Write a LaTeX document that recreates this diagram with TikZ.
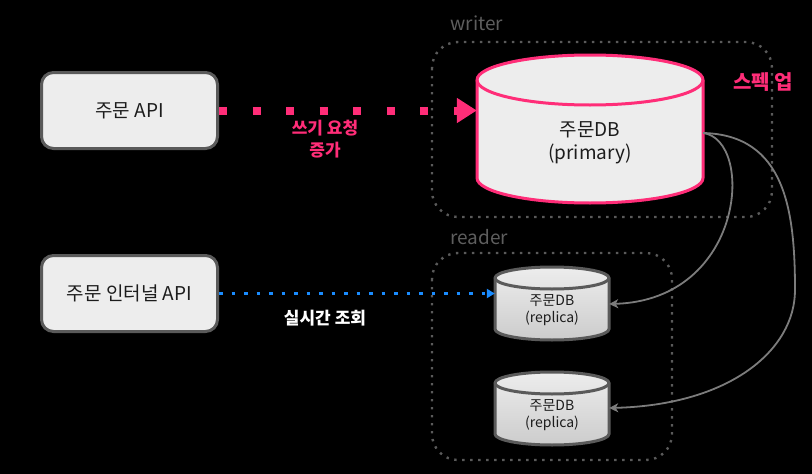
\documentclass[tikz,border=0pt]{standalone}
\usepackage{fontspec}
\setmainfont{Noto Sans CJK KR}
\usetikzlibrary{arrows.meta,positioning}
\definecolor{boxfill}{HTML}{EDEDED}
\definecolor{boxline}{HTML}{5A5A5A}
\definecolor{hotpink}{HTML}{FF2D78}
\definecolor{linkblue}{HTML}{1A8CFF}
\definecolor{grouplabel}{HTML}{5E5E5E}
\definecolor{syncline}{HTML}{7C7C7C}
\definecolor{darktext}{HTML}{1C1C1C}

\begin{document}
\begin{tikzpicture}[x=1pt,y=-1pt,
  every node/.style={font=\fontsize{19}{23}\selectfont},
  apibox/.style={draw=boxline,fill=boxfill,line width=3pt,rounded corners=12pt,
    minimum width=176pt,minimum height=76pt,text=darktext},
  group/.style={draw=boxline,line width=2.4pt,dash pattern=on 2.4pt off 5.6pt,rounded corners=26pt},
  grouptext/.style={text=grouplabel,anchor=west},
  dbtext/.style={align=center,text=darktext,inner sep=0pt},
  pinklabel/.style={align=center,text=hotpink,font=\fontsize{17}{22}\selectfont\bfseries},
  sync/.style={draw=syncline,line width=1.8pt,-{Stealth[length=9pt,width=9pt,inset=2.5pt]}}]
\fill[black] (0,0) rectangle (812,474);
\useasboundingbox (0,0) rectangle (812,474);

% groups
\draw[group] (432,42) rectangle (772,217);
\draw[group] (432,253) rectangle (672,460);
\node[grouptext] (writerlabel) at (447,23) {writer};
\node[grouptext] (readerlabel) at (447,237) {reader};

% api boxes
\node[apibox] (orderapi) at (129.5,110.5) {주문 API};
\node[apibox] (internalapi) at (129.5,293.5) {주문 인터널 API};

% primary db
\draw[line width=3pt,draw=hotpink,fill=boxfill] (477,80) -- (477,178)
  arc[start angle=180,end angle=360,x radius=113pt,y radius=25pt] -- (703,80)
  arc[start angle=0,end angle=180,x radius=113pt,y radius=25pt] -- cycle;
\draw[line width=3pt,draw=hotpink] (477,80) arc[start angle=180,end angle=360,x radius=113pt,y radius=25pt];
\node[dbtext,minimum width=226pt] (primary) at (590,143) {주문DB\\(primary)};

% replicas
\draw[line width=3pt,draw=boxline,top color=boxfill,bottom color=black!20] (495,278) -- (495,329)
  arc[start angle=180,end angle=360,x radius=57pt,y radius=11pt] -- (609,278)
  arc[start angle=0,end angle=180,x radius=57pt,y radius=11pt] -- cycle;
\draw[line width=3pt,draw=boxline] (495,278) arc[start angle=180,end angle=360,x radius=57pt,y radius=11pt];
\node[dbtext,minimum width=114pt,font=\fontsize{14}{17}\selectfont] (replica1) at (552,310) {주문DB\\(replica)};

\draw[line width=3pt,draw=boxline,top color=boxfill,bottom color=black!20] (495,383) -- (495,434)
  arc[start angle=180,end angle=360,x radius=57pt,y radius=11pt] -- (609,383)
  arc[start angle=0,end angle=180,x radius=57pt,y radius=11pt] -- cycle;
\draw[line width=3pt,draw=boxline] (495,383) arc[start angle=180,end angle=360,x radius=57pt,y radius=11pt];
\node[dbtext,minimum width=114pt,font=\fontsize{14}{17}\selectfont] (replica2) at (552,415) {주문DB\\(replica)};

% requests
\draw[hotpink,line width=8pt,dash pattern=on 8pt off 25.5pt,-{Triangle[length=20pt,width=24pt]}]
  (orderapi.east) -- (orderapi.east -| primary.west);
\node[pinklabel] (writelabel) at (325,139) {쓰기 요청\\증가};
\node[pinklabel,font=\fontsize{20}{24}\selectfont\bfseries] (scaleup) at (763,82) {스펙 업};

\draw[linkblue,line width=3.5pt,dash pattern=on 3.5pt off 9pt,-{Triangle[length=8pt,width=9pt]}]
  (internalapi.east) -- (internalapi.east -| replica1.west);
\node[text=white,font=\fontsize{17}{22}\selectfont\bfseries] (readlabel) at (325,318) {실시간 조회};

% replication
\draw[sync] ([yshift=10pt]primary.east) .. controls (755,140) and (745,300) .. ([yshift=6pt]replica1.east);
\draw[sync] ([yshift=10pt]primary.east) .. controls (785,135) and (795,210) .. (795,290)
  .. controls (795,350) and (730,405) .. ([yshift=7pt]replica2.east);
\end{tikzpicture}
\end{document}
